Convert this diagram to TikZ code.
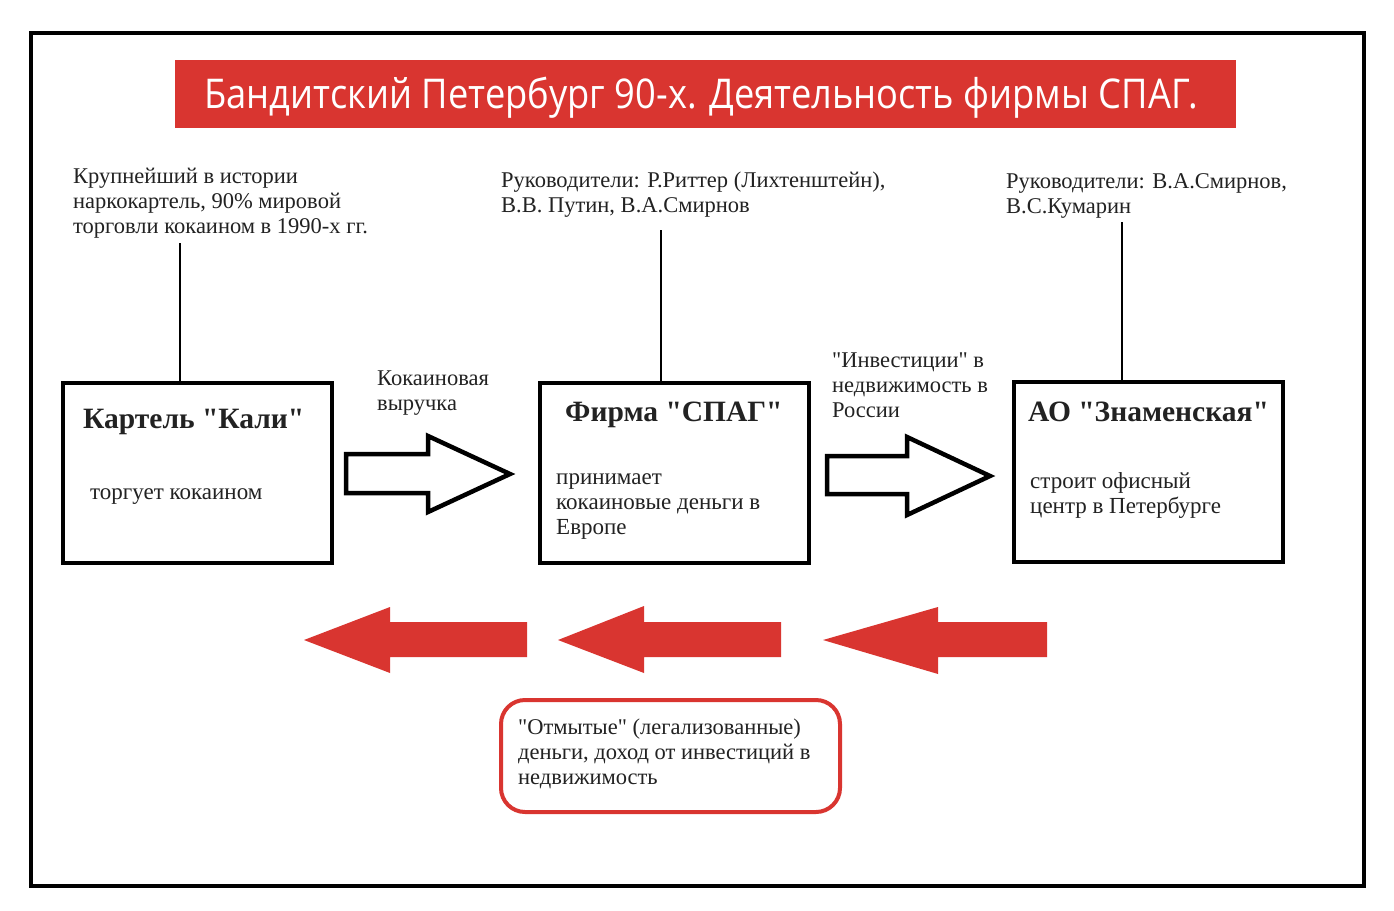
\documentclass[tikz,border=0pt]{standalone}
\usepackage{fontspec}
\setmainfont{Liberation Serif}
\newfontfamily\titlefont{Open Sans}[FakeStretch=0.885]
\font\myannfont="Liberation Serif" at 22.5pt
\font\myboxfont="Liberation Serif" at 23pt
\font\myboldfont="Liberation Serif/B" at 29.5pt
\newcommand\annsty{\myannfont\baselineskip=25pt\relax}
\newcommand\boxsty{\myboxfont\baselineskip=25pt\relax}
\definecolor{redc}{HTML}{D93530}
\definecolor{txt}{HTML}{222222}
\begin{document}
\begin{tikzpicture}[x=1pt,y=-1pt,
  body/.style={font=\annsty, text=txt, align=left, inner sep=0pt, anchor=base west},
  boxbody/.style={font=\boxsty, text=txt, align=left, inner sep=0pt, anchor=base west},
  btitle/.style={font=\myboldfont, text=txt, inner sep=0pt, anchor=base west},
  entity/.style={draw=black, line width=4pt, minimum width=269pt, minimum height=180pt, anchor=north west, inner sep=0pt},
  hollow/.style={draw=black, line width=4.5pt, fill=white, line join=miter},
  redarrow/.style={fill=redc, draw=none},
  link/.style={line width=2.2pt, draw=black}]
\useasboundingbox (0,0) rectangle (1394,910);
\fill[white] (0,0) rectangle (1394,910);
% outer frame
\draw[line width=4pt] (31,33) rectangle (1364,886);
% title
\node[fill=redc, minimum width=1061pt, minimum height=68pt, anchor=north west, inner sep=0pt] (title) at (175,60) {};
\node[font=\titlefont\fontsize{41}{43}\selectfont, text=white, inner sep=0pt, anchor=base] (titletext) at (701,108) {Бандитский Петербург 90-х. Деятельность фирмы СПАГ.};
% boxes
\node[entity] (kali) at (61,381) {};
\node[entity] (spag) at (538,381) {};
\node[entity] (znam) at (1012,380) {};
\node[btitle] (kalit) at (83,428) {Картель "Кали"};
\node[boxbody] (kalib) at (90,499) {торгует кокаином};
\node[btitle] (spagt) at (565,421) {Фирма "СПАГ"};
\node[boxbody] (spagb) at (556,534) {принимает\\кокаиновые деньги в\\Европе};
\node[btitle] (znamt) at (1028,421) {АО "Знаменская"};
\node[boxbody] (znamb) at (1030,513) {строит офисный\\центр в Петербурге};
% annotations
\node[body] (ann1) at (73,233) {Крупнейший в истории\\наркокартель, 90\% мировой\\торговли кокаином в 1990-х гг.};
\node[body] (ann2) at (501,212) {Руководители: Р.Риттер (Лихтенштейн),\\В.В. Путин, В.А.Смирнов};
\node[body] (ann3) at (1006,213) {Руководители: В.А.Смирнов,\\В.С.Кумарин};
\coordinate (c1) at (180,243);
\coordinate (c2) at (661,230);
\coordinate (c3) at (1122,222);
\draw[link] (c1) -- (c1 |- kali.north);
\draw[link] (c2) -- (c2 |- spag.north);
\draw[link] (c3) -- (c3 |- znam.north);
% hollow arrows
\draw[hollow] (346,454) -- (428,454) -- (428,436) -- (510,474) -- (428,512) -- (428,493) -- (346,493) -- cycle;
\draw[hollow] (827,456) -- (907,456) -- (907,437) -- (990,476) -- (907,515) -- (907,494) -- (827,494) -- cycle;
\node[body] (lab1) at (377,410) {Кокаиновая\\выручка};
\node[body] (lab2) at (832,417) {"Инвестиции" в\\недвижимость в\\России};
% red arrows
\fill[redarrow] (304,640) -- (390,607) -- (390,622) -- (527,622) -- (527,657) -- (390,657) -- (390,673) -- cycle;
\fill[redarrow] (558,640) -- (644,606) -- (644,622) -- (781,622) -- (781,657) -- (644,657) -- (644,673) -- cycle;
\fill[redarrow] (823,640) -- (938,607) -- (938,622) -- (1047,622) -- (1047,657) -- (938,657) -- (938,674) -- cycle;
% legend box
\node[draw=redc, line width=4pt, rounded corners=24pt, minimum width=339pt, minimum height=112pt, anchor=north west, inner sep=0pt] (legend) at (499,698) {};
\node[body] (legendt) at (518,784) {"Отмытые" (легализованные)\\деньги, доход от инвестиций в\\недвижимость};
\end{tikzpicture}
\end{document}
